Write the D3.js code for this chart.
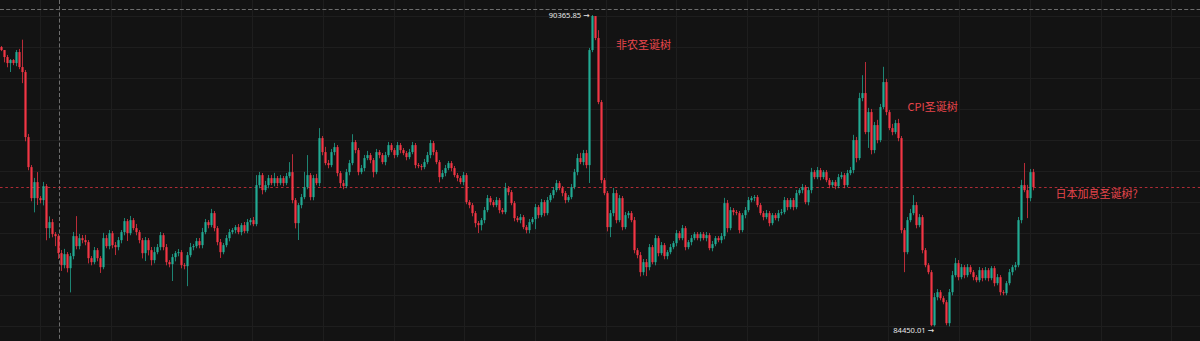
<!DOCTYPE html>
<html>
<head>
<meta charset="utf-8">
<script src="https://cdn.jsdelivr.net/npm/d3@7"></script>
<style>
  html, body { margin: 0; padding: 0; background: #131313; }
  svg { display: block; }
</style>
</head>
<body>
<svg id="canvas" width="1200" height="341"></svg>
<script>
// price data, open of each candle = previous close
var firstOpen = 89757;

var closes = [
  89700,89567,89453,89510,89453,89662,89377,89282,88047,87477,86888,87192,86888,86850,87116,
  86318,86432,86204,86166,85843,85615,85824,85558,85786,86166,85976,86128,86090,86052,85748,
  85672,85900,85748,85577,86128,85976,86223,85995,85957,86090,86242,86451,86223,86470,86318,
  86242,86090,85843,86090,85900,85710,85862,85957,86185,85957,85672,85634,85767,85843,85862,
  85615,85596,85805,85957,85976,86071,85995,86242,86432,86375,86603,86318,86052,85862,85995,
  86128,86242,86280,86337,86242,86375,86261,86432,86470,86394,87135,87325,87040,87135,87268,
  87173,87268,87173,87268,87173,87306,87382,86850,86413,86755,86907,87097,87325,86907,87268,
  87173,88028,87762,87553,87515,87762,87857,87363,87173,87116,87382,87553,87952,87800,87382,
  87458,87648,87705,87610,87382,87762,87705,87572,87705,87895,87800,87705,87895,87800,87743,
  87667,87762,87895,87515,87496,87477,87572,87705,87933,87762,87572,87287,87363,87458,87553,
  87458,87325,87268,87192,87325,86812,86755,86603,86413,86375,86470,86660,86888,86812,86755,
  86850,86660,86622,87078,87002,86793,86508,86470,86527,86337,86280,86432,86489,86717,86565,
  86812,86603,86850,86945,87040,87173,87078,86983,86850,86907,87097,87382,87648,87572,87743,
  87515,89700,90346,89928,88712,87230,86983,86337,86603,86983,86470,86888,86337,86565,86603,
  86470,85900,85805,85482,85672,85577,85957,85672,86128,85843,85995,85786,85862,85957,86033,
  86223,86128,86318,85957,86052,86128,86204,86128,86204,86128,86185,85938,86014,86128,86090,
  86166,86793,86318,86660,86622,86603,86280,86565,86660,86850,86888,86907,86755,86603,86527,
  86603,86413,86565,86508,86603,86622,86850,86717,86850,86717,86983,87040,87097,86812,87040,
  87382,87287,87420,87287,87382,87230,87135,87192,87116,87287,87325,87135,87363,87420,87990,
  87648,88788,88883,88142,88522,87800,88275,87990,88617,89092,88522,88218,88142,88313,88028,
  86280,85862,86470,86603,86755,86375,86527,85900,85615,85482,84475,85007,85102,84988,84912,
  84513,85102,85425,85653,85387,85577,85425,85577,85482,85387,85330,85520,85368,85520,85368,
  85558,85273,85387,85102,85083,85273,85482,85577,85615,86470,87135,87040,86888,87382,87097
];

// wick length above / below the body, in price
var upperWicks = [
  20,0,40,20,20,40,60,520,40,60,40,80,190,40,80,
  40,110,60,40,40,60,100,40,60,80,380,80,60,100,40,
  40,60,40,40,100,60,60,40,60,60,40,60,40,80,40,
  80,40,40,60,40,60,100,60,60,40,60,40,60,40,60,
  40,40,60,80,40,60,60,80,60,40,80,40,40,60,40,
  60,60,40,40,60,40,60,60,40,60,190,60,40,80,60,
  60,100,40,60,40,60,190,340,40,40,60,290,380,40,60,
  80,190,40,100,60,60,80,40,40,60,60,60,150,40,40,
  60,60,80,40,40,60,40,40,60,60,40,40,60,40,40,
  40,60,60,40,40,40,60,60,60,40,40,40,60,60,40,
  40,40,40,40,60,40,40,40,40,40,40,60,60,40,40,
  60,40,40,100,40,40,40,40,60,40,40,60,40,60,40,
  60,40,60,40,60,60,40,40,40,40,60,60,80,100,60,
  60,40,19.85,0,150,40,40,40,60,100,60,60,40,60,40,
  40,60,40,60,60,60,60,40,60,40,60,40,40,60,40,
  60,40,60,40,40,60,40,40,40,40,60,40,60,40,40,
  60,100,60,60,40,40,40,40,60,60,40,40,40,40,40,
  60,40,40,40,60,60,60,40,40,40,60,40,60,40,60,
  80,40,60,40,40,40,40,40,40,60,60,40,60,60,100,
  60,100,340,590,80,60,60,100,60,290,60,40,80,60,80,
  40,40,60,80,190,60,60,40,40,40,40,80,60,40,40,
  40,60,80,100,60,60,40,60,40,40,40,60,40,60,40,
  40,40,60,40,40,40,60,40,60,60,100,420,100,60,60
];

var lowerWicks = [
  20,100,80,170,40,60,40,210,80,60,60,270,130,60,100,
  230,190,60,190,110,110,60,80,460,60,60,60,60,60,100,
  60,40,60,110,40,40,60,60,150,60,60,60,150,40,40,
  60,60,100,150,100,100,60,40,60,60,60,60,320,80,60,
  60,60,380,40,60,40,60,60,40,60,40,60,60,110,40,
  40,60,40,60,40,60,40,40,60,40,40,60,80,40,60,
  40,60,60,40,60,40,40,60,100,320,60,40,40,60,60,
  40,60,60,40,60,40,60,60,80,60,40,60,40,60,60,
  40,60,40,60,100,40,60,40,60,40,40,60,40,60,40,
  60,40,40,60,40,60,40,40,60,60,40,100,40,60,40,
  60,40,60,40,60,40,60,60,80,150,100,60,40,60,40,
  40,60,40,40,60,40,60,40,60,40,60,60,40,190,60,
  40,60,40,40,60,40,40,60,60,40,40,40,60,40,60,
  60,340,40,40,40,60,40,80,190,60,60,40,60,40,60,
  40,60,60,80,60,170,60,40,60,60,40,60,60,40,40,
  60,40,40,60,40,60,40,40,60,40,60,40,60,40,40,
  60,60,80,40,60,40,60,40,60,40,40,60,40,40,60,
  40,60,40,40,60,40,40,60,40,60,40,40,60,40,60,
  60,40,40,60,40,40,60,40,60,40,40,60,40,40,60,
  80,40,60,40,300,80,60,60,40,40,60,40,60,40,60,
  60,380,40,40,40,60,40,60,40,40,20,24.99,60,40,40,
  40,60,60,40,60,40,60,40,40,60,40,40,60,40,60,
  40,60,40,60,40,40,40,60,60,40,60,40,380,60,60
];

// annotation texts, anchored at a candle index and a price
var noteTexts = ['非农圣诞树', 'CPI圣诞树', '日本加息圣诞树?'];
var noteIndex = [205.3, 302.5, 351.8];
var notePrice = [89776, 88598, 86945];

var W = 1200, H = 341;
var UP = '#22ab94', DOWN = '#f23645';

var n = closes.length;
var candles = closes.map(function (c, i) {
  var o = i === 0 ? firstOpen : closes[i - 1];
  return {
    i: i, o: o, c: c,
    h: Math.max(o, c) + upperWicks[i],
    l: Math.min(o, c) - lowerWicks[i]
  };
});

var step = 3;
var x = d3.scaleLinear().domain([0, n]).range([0, n * step]);
var hiC = candles.reduce(function (a, b) { return b.h > a.h ? b : a; });
var loC = candles.reduce(function (a, b) { return b.l < a.l ? b : a; });
var y = d3.scaleLinear().domain([loC.l, hiC.h]).range([326.5, 15]);

var svg = d3.select('#canvas');
svg.append('rect').attr('width', W).attr('height', H).attr('fill', '#131313');

// grid
var grid = svg.append('g').attr('stroke', '#1e1e1e').attr('stroke-width', 1);
grid.selectAll('line.v').data(d3.range(40, W, 70.7)).enter().append('line')
  .attr('x1', function (d) { return Math.round(d) + 0.5; })
  .attr('x2', function (d) { return Math.round(d) + 0.5; })
  .attr('y1', 0).attr('y2', H);
grid.selectAll('line.h').data(d3.range(16, H, 31)).enter().append('line')
  .attr('y1', function (d) { return d + 0.5; })
  .attr('y2', function (d) { return d + 0.5; })
  .attr('x1', 0).attr('x2', W);

// crosshair
svg.append('line').attr('x1', 0).attr('x2', W).attr('y1', 9.5).attr('y2', 9.5)
  .attr('stroke', '#6e6e6e').attr('stroke-dasharray', '4,2.2');
svg.append('line').attr('x1', 59.5).attr('x2', 59.5).attr('y1', 0).attr('y2', H)
  .attr('stroke', '#6e6e6e').attr('stroke-dasharray', '4,2.2');

// last price line
var last = candles[n - 1];
var lastY = Math.round(y(last.c)) + 0.5;
svg.append('line').attr('x1', 0).attr('x2', W).attr('y1', lastY).attr('y2', lastY)
  .attr('stroke', last.c < last.o ? DOWN : UP).attr('stroke-opacity', 0.7)
  .attr('stroke-dasharray', '2.6,2.7');

var color = function (d) { return d.c >= d.o ? UP : DOWN; };

var g = svg.append('g');
g.selectAll('line.wick').data(candles).enter().append('line')
  .attr('x1', function (d) { return x(d.i) + step / 2; })
  .attr('x2', function (d) { return x(d.i) + step / 2; })
  .attr('y1', function (d) { return y(d.h); })
  .attr('y2', function (d) { return y(d.l); })
  .attr('stroke', color).attr('stroke-width', 1).attr('stroke-opacity', 0.75);

g.selectAll('rect.body').data(candles).enter().append('rect')
  .attr('x', function (d) { return x(d.i) + 0.4; })
  .attr('width', step - 0.8)
  .attr('y', function (d) { return y(Math.max(d.o, d.c)); })
  .attr('height', function (d) { return Math.max(1, Math.abs(y(d.o) - y(d.c))); })
  .attr('fill', color);

// high / low labels
var lab = svg.append('g').attr('font-family', '"Noto Sans", "DejaVu Sans", sans-serif')
  .attr('font-size', 7.6).attr('fill', '#e6e6e6').attr('text-anchor', 'end');
lab.append('text')
  .attr('x', x(hiC.i) - 1.5).attr('y', y(hiC.h) + 0.5)
  .attr('dominant-baseline', 'middle')
  .text(hiC.h.toFixed(2) + ' →');
lab.append('text')
  .attr('x', x(loC.i) + step / 2 - 0.5).attr('y', y(loC.l) + 4.5)
  .attr('dominant-baseline', 'middle')
  .text(loC.l.toFixed(2) + ' →');

// annotations
svg.append('g').selectAll('text').data(noteTexts).enter().append('text')
  .attr('x', function (d, i) { return x(noteIndex[i]); })
  .attr('y', function (d, i) { return y(notePrice[i]); })
  .attr('dominant-baseline', 'middle')
  .attr('font-family', '"Noto Sans CJK SC", "Noto Sans", sans-serif')
  .attr('font-size', 11).attr('fill', '#e8464c')
  .text(function (d) { return d; });
</script>
</body>
</html>
